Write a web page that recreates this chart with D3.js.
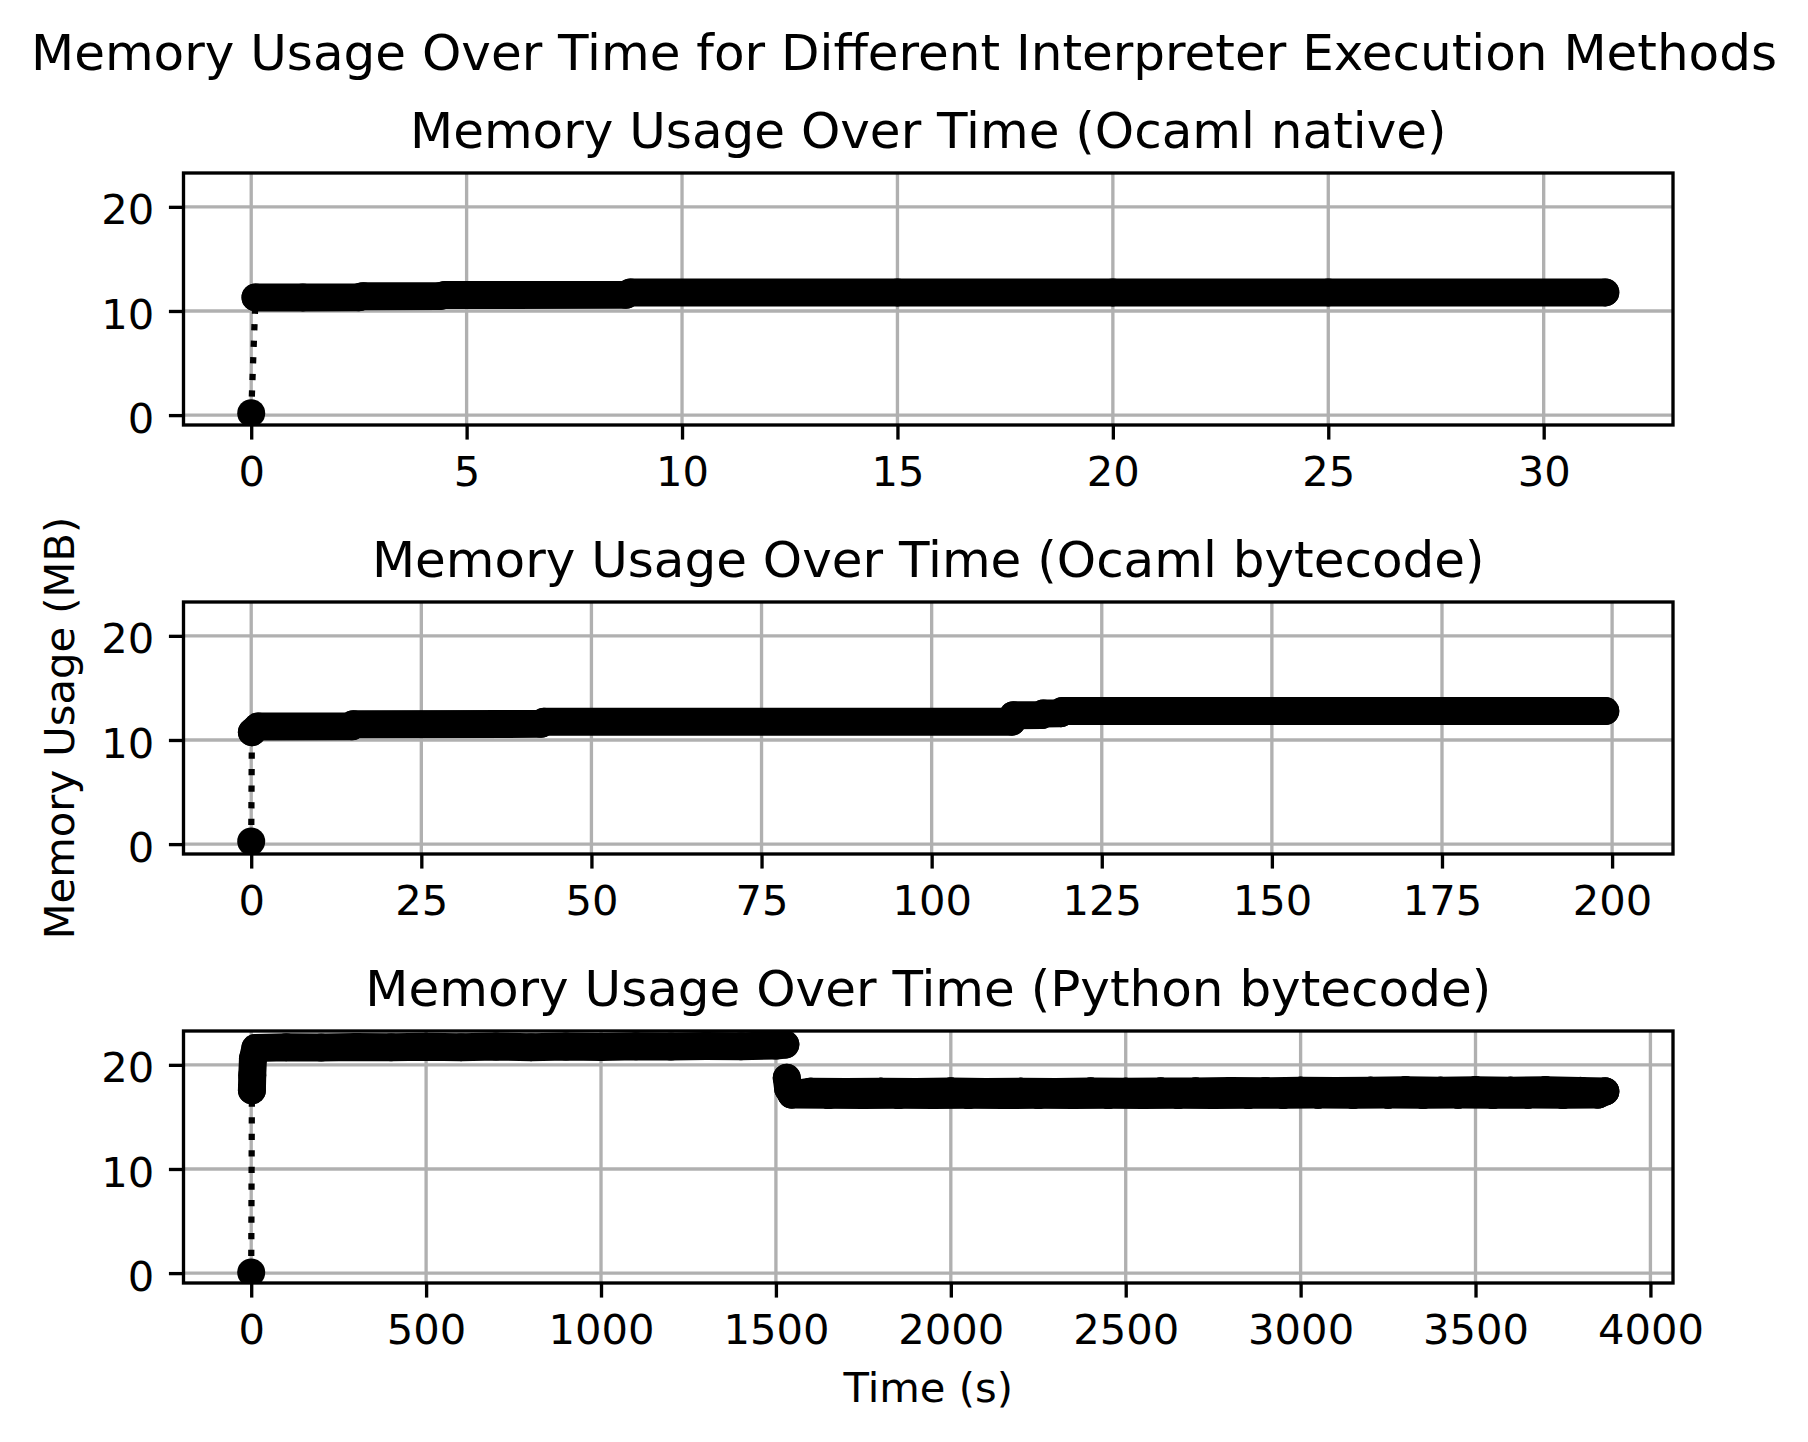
<!DOCTYPE html>
<html>
<head>
<meta charset="utf-8">
<script src="https://cdn.jsdelivr.net/npm/d3@7"></script>
<style>
  body { margin: 0; background: #fff; }
  svg text { font-family: "DejaVu Sans", sans-serif; fill: #000; }
</style>
</head>
<body>
<script>
// ---------- data ----------
const nativeTime = [0, 0.1, 1.2, 2.5, 2.6, 4.4, 4.5, 8.7, 8.8, 15, 20, 25, 31.43];
const nativeMem  = [0.19, 11.3, 11.3, 11.32, 11.42, 11.45, 11.53, 11.55, 11.78, 11.78, 11.78, 11.78, 11.78];

const byteTime = [0, 0.1, 1, 14.8, 15, 42.6, 43, 111.8, 112, 116.2, 116.4, 119, 119.2, 150, 199];
const byteMem  = [0.25, 10.75, 11.3, 11.32, 11.52, 11.55, 11.74, 11.76, 12.38, 12.4, 12.55, 12.57, 12.78, 12.78, 12.78];

const pyTime = [0, 2, 3, 5, 12, 100, 200, 300, 400, 500, 600, 700, 800, 900, 1000, 1100, 1200, 1300, 1400, 1500, 1527,
                1531, 1535, 1545, 1600, 1650, 1700, 1750, 1800, 1850, 1900, 1950, 2000, 2050, 2100, 2150, 2200, 2250,
                2300, 2350, 2400, 2450, 2500, 2550, 2600, 2650, 2700, 2750, 2800, 2850, 2900, 2950, 3000, 3050,
                3100, 3150, 3200, 3250, 3300, 3350, 3400, 3450, 3500, 3550, 3600, 3650, 3700, 3750, 3800, 3850, 3871];
const pyMem  = [0.06, 17.55, 19.0, 20.6, 21.62, 21.7, 21.66, 21.72, 21.68, 21.74, 21.7, 21.75, 21.7, 21.76, 21.72, 21.78, 21.75, 21.8, 21.78, 21.85, 21.95,
                18.75, 17.7, 17.15, 17.42, 17.12, 17.4, 17.1, 17.42, 17.12, 17.4, 17.1, 17.44, 17.12, 17.4, 17.1, 17.42, 17.12,
                17.4, 17.1, 17.44, 17.12, 17.42, 17.1, 17.45, 17.12, 17.44, 17.1, 17.48, 17.12, 17.46, 17.12, 17.52, 17.14,
                17.48, 17.12, 17.52, 17.14, 17.55, 17.12, 17.52, 17.14, 17.55, 17.12, 17.52, 17.14, 17.55, 17.12, 17.5, 17.15, 17.45];

const nativeTicks = [0, 5, 10, 15, 20, 25, 30];
const byteTicks = [0, 25, 50, 75, 100, 125, 150, 175, 200];
const pyTicks = [0, 500, 1000, 1500, 2000, 2500, 3000, 3500, 4000];
const memTicks = [0, 10, 20];
const memLimits = [-0.95, 23.25];

const titles = [
  "Memory Usage Over Time (Ocaml native)",
  "Memory Usage Over Time (Ocaml bytecode)",
  "Memory Usage Over Time (Python bytecode)"
];

// ---------- layout ----------
const W = 1808, H = 1442;
const pt = 300 / 72;               // figure was saved at 300 dpi
const left = 183.5, right = 1673, plotH = 252;
const tops = [173, 602, 1031];
const tickLen = 3.5 * pt, lw = 0.8 * pt;
const tickFont = 10 * pt, titleFont = 12 * pt;
const markerR = 14;

const panels = [
  { time: nativeTime, mem: nativeMem, ticks: nativeTicks },
  { time: byteTime, mem: byteMem, ticks: byteTicks },
  { time: pyTime, mem: pyMem, ticks: pyTicks }
];

const svg = d3.select("body").append("svg")
  .attr("width", W).attr("height", H)
  .attr("viewBox", `0 0 ${W} ${H}`);

svg.append("text")
  .attr("x", W / 2).attr("y", 69.5)
  .attr("text-anchor", "middle")
  .style("font-size", titleFont + "px")
  .text("Memory Usage Over Time for Different Interpreter Execution Methods");

panels.forEach((p, i) => {
  const top = tops[i];
  const pts = p.time.map((t, j) => ({ t: t, m: p.mem[j] }));

  // x limits: data range plus 5% margins, like matplotlib
  const ext = d3.extent(p.time);
  const pad = (ext[1] - ext[0]) * 0.05;
  const x = d3.scaleLinear().domain([ext[0] - pad, ext[1] + pad]).range([left, right]);
  const y = d3.scaleLinear().domain(memLimits).range([top + plotH, top]);

  // grid
  const grid = svg.append("g").attr("stroke", "#b0b0b0").attr("stroke-width", lw);
  grid.selectAll("line.gx").data(p.ticks).join("line")
    .attr("x1", d => x(d)).attr("x2", d => x(d))
    .attr("y1", top).attr("y2", top + plotH);
  grid.selectAll("line.gy").data(memTicks).join("line")
    .attr("x1", left).attr("x2", right)
    .attr("y1", d => y(d)).attr("y2", d => y(d));

  // clip
  const clipId = "clip" + i;
  svg.append("clipPath").attr("id", clipId)
    .append("rect").attr("x", left).attr("y", top)
    .attr("width", right - left).attr("height", plotH);

  const plot = svg.append("g").attr("clip-path", `url(#${clipId})`);

  const line = d3.line().x(d => x(d.t)).y(d => y(d.m));

  // dense sampling shows as a solid band of overlapping markers
  const runs = [];
  let cur = [];
  pts.forEach((d, j) => {
    if (j > 0 && Math.abs(d.m - pts[j - 1].m) > 2) { runs.push(cur); cur = []; }
    cur.push(d);
  });
  runs.push(cur);

  // also join every other sample when close, so noisy runs read as one flat band
  const skips = [];
  runs.forEach(r => {
    for (let k = 0; k + 2 < r.length; k++) {
      const a = r[k], b = r[k + 2];
      if (Math.abs(b.m - a.m) <= 0.12 && x(b.t) - x(a.t) <= 40) skips.push([a, b]);
    }
  });

  const band = plot.append("g")
    .attr("fill", "none")
    .attr("stroke", "#000")
    .attr("stroke-width", markerR * 2)
    .attr("stroke-linecap", "round")
    .attr("stroke-linejoin", "round");

  band.selectAll("path.run").data(runs.filter(r => r.length > 1)).join("path")
    .attr("class", "run")
    .attr("d", line);

  band.selectAll("path.skip").data(skips).join("path")
    .attr("class", "skip")
    .attr("d", line);

  // dotted line through all samples
  plot.append("path")
    .datum(pts)
    .attr("d", line)
    .attr("fill", "none")
    .attr("stroke", "#000")
    .attr("stroke-width", 1.5 * pt)
    .attr("stroke-dasharray", `${1.5 * pt},${1.65 * 1.5 * pt}`);

  plot.selectAll("circle").data(pts).join("circle")
    .attr("cx", d => x(d.t)).attr("cy", d => y(d.m))
    .attr("r", markerR).attr("fill", "#000");

  // spines
  svg.append("rect")
    .attr("x", left).attr("y", top)
    .attr("width", right - left).attr("height", plotH)
    .attr("fill", "none").attr("stroke", "#000").attr("stroke-width", lw);

  // axes
  svg.append("g")
    .attr("transform", `translate(0,${top + plotH})`)
    .call(d3.axisBottom(x).tickValues(p.ticks).tickSize(tickLen).tickFormat(d3.format("d")))
    .attr("font-family", null).attr("font-size", null)
    .call(g => g.select(".domain").remove())
    .call(g => g.selectAll(".tick line").attr("stroke", "#000").attr("stroke-width", lw))
    .call(g => g.selectAll(".tick text")
      .attr("y", tickLen * 2 + 0.76 * tickFont).attr("dy", null)
      .style("font-size", tickFont + "px"));

  svg.append("g")
    .attr("transform", `translate(${left},0)`)
    .call(d3.axisLeft(y).tickValues(memTicks).tickSize(tickLen).tickFormat(d3.format("d")))
    .attr("font-family", null).attr("font-size", null)
    .call(g => g.select(".domain").remove())
    .call(g => g.selectAll(".tick line").attr("stroke", "#000").attr("stroke-width", lw))
    .call(g => g.selectAll(".tick text")
      .attr("x", -tickLen * 2).attr("dy", "0.41em")
      .style("font-size", tickFont + "px"));

  svg.append("text")
    .attr("x", (left + right) / 2).attr("y", top - 6 * pt)
    .attr("text-anchor", "middle")
    .style("font-size", titleFont + "px")
    .text(titles[i]);
});

// axis labels
svg.append("text")
  .attr("x", (left + right) / 2).attr("y", 1402)
  .attr("text-anchor", "middle")
  .style("font-size", tickFont + "px")
  .text("Time (s)");

svg.append("text")
  .attr("transform", `translate(73.5,${tops[1] + plotH / 2}) rotate(-90)`)
  .attr("text-anchor", "middle")
  .style("font-size", tickFont + "px")
  .text("Memory Usage (MB)");
</script>
</body>
</html>
